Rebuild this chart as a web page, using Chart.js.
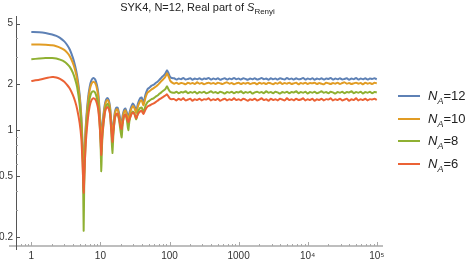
<!DOCTYPE html>
<html>
<head>
<meta charset="utf-8">
<script src="https://cdn.jsdelivr.net/npm/chart.js@4.4.0/dist/chart.umd.min.js"></script>
<style>
  body { margin: 0; background: #fff; font-family: "Liberation Sans", Arial, sans-serif; }
  #wrap { position: relative; width: 475px; height: 264px; }
  #title { position: absolute; top: 1px; left: 0; width: 395px; text-align: center; font-size: 11px; color: #222; white-space: nowrap; }
  #title sub { font-size: 8px; }
  .leg { position: absolute; left: 398px; font-size: 13px; color: #222; height: 16px; line-height: 16px; white-space: nowrap; }
  .leg span.sw { display: inline-block; width: 22px; height: 2px; vertical-align: middle; margin-right: 8px; position: relative; top: -1px; }
  .leg sub { font-size: 9px; }
</style>
</head>
<body>
<div id="wrap">
  <canvas id="c" width="475" height="264"></canvas>
  <div id="title">SYK4, N=12, Real part of <i>S</i><sub>Renyi</sub></div>
  <div id="legend"></div>
</div>
<script>
// time points (log axis)
const times = [
  1, 1.3, 1.6, 2, 2.3, 2.6, 3, 3.3, 3.6, 4,
  4.3, 4.6, 5, 5.3, 5.5, 5.62, 5.72, 5.82, 5.95, 6.2,
  6.6, 7.0, 7.4, 7.9, 8.4, 8.9, 9.3, 9.8, 10.1, 10.3,
  10.5, 10.8, 11.5, 12.0, 12.6, 13.2, 13.8, 14.4, 14.9, 15.4,
  16.2, 17.0, 17.7, 18.6, 19.6, 20.3, 21.0, 22.0, 23.0, 24.2,
  25.3, 26.3, 27.8, 29.5, 31.0, 33.0, 35.0, 37.5, 39.5, 42.0,
  45, 48, 51, 55, 59, 63, 67, 72, 77, 82,
  87, 92, 97, 102, 108,
  117, 126, 136, 147, 158, 171, 185, 200, 215, 232,
  251, 271, 293, 316, 341, 368, 398, 430, 464, 501,
  541, 584, 631, 681, 736, 794, 858, 926, 1000, 1080,
  1170, 1260, 1360, 1470, 1580, 1710, 1850, 2000, 2150, 2320,
  2510, 2710, 2930, 3160, 3410, 3680, 3980, 4300, 4640, 5010,
  5410, 5840, 6310, 6810, 7360, 7940, 8580, 9260, 10000, 10800,
  11700, 12600, 13600, 14700, 15800, 17100, 18500, 20000, 21500, 23200,
  25100, 27100, 29300, 31600, 34100, 36800, 39800, 43000, 46400, 50100,
  54100, 58400, 63100, 68100, 73600, 79400, 85800, 92600, 100000
];

const na12 = [
  4.40, 4.39, 4.34, 4.24, 4.15, 4.03, 3.82, 3.62, 3.38, 2.98,
  2.65, 2.28, 1.72, 1.22, 0.82, 0.60, 0.42, 0.58, 0.80, 1.15,
  1.60, 1.93, 2.12, 2.20, 2.15, 1.98, 1.75, 1.30, 0.98, 0.76,
  0.95, 1.15, 1.45, 1.58, 1.63, 1.58, 1.42, 1.12, 0.90, 1.08,
  1.32, 1.41, 1.41, 1.30, 1.15, 1.10, 1.25, 1.36, 1.39, 1.30,
  1.22, 1.30, 1.42, 1.50, 1.45, 1.35, 1.50, 1.62, 1.64, 1.52,
  1.72, 1.86, 1.90, 1.96, 1.99, 2.04, 2.08, 2.15, 2.22, 2.28,
  2.35, 2.47, 2.36, 2.24, 2.20,
  2.19, 2.15, 2.18, 2.16, 2.20, 2.15, 2.17, 2.19, 2.14, 2.18,
  2.16, 2.19, 2.15, 2.18, 2.17, 2.20, 2.15, 2.18, 2.16, 2.19,
  2.14, 2.17, 2.19, 2.15, 2.18, 2.16, 2.20, 2.16, 2.18, 2.15,
  2.19, 2.17, 2.14, 2.18, 2.16, 2.19, 2.15, 2.17, 2.20, 2.16,
  2.18, 2.14, 2.19, 2.16, 2.18, 2.15, 2.19, 2.17, 2.15, 2.20,
  2.16, 2.18, 2.15, 2.19, 2.16, 2.17, 2.20, 2.15, 2.18, 2.16,
  2.19, 2.14, 2.18, 2.16, 2.19, 2.15, 2.18, 2.17, 2.20, 2.15,
  2.18, 2.16, 2.19, 2.15, 2.17, 2.19, 2.14, 2.18, 2.16, 2.20,
  2.15, 2.18, 2.16, 2.19, 2.15, 2.18, 2.17, 2.19, 2.16
];

const na10 = [
  3.65, 3.65, 3.63, 3.60, 3.55, 3.48, 3.36, 3.22, 3.05, 2.75,
  2.48, 2.16, 1.64, 1.17, 0.80, 0.58, 0.40, 0.56, 0.77, 1.10,
  1.52, 1.84, 2.01, 2.08, 2.04, 1.88, 1.66, 1.24, 0.94, 0.73,
  0.92, 1.10, 1.40, 1.53, 1.58, 1.53, 1.38, 1.09, 0.88, 1.05,
  1.28, 1.37, 1.37, 1.26, 1.10, 1.05, 1.20, 1.32, 1.35, 1.26,
  1.18, 1.25, 1.37, 1.44, 1.40, 1.30, 1.44, 1.55, 1.57, 1.46,
  1.64, 1.76, 1.80, 1.85, 1.89, 1.93, 1.97, 2.04, 2.11, 2.17,
  2.24, 2.36, 2.25, 2.12, 2.06,
  2.02, 2.05, 2.01, 2.04, 2.03, 2.00, 2.05, 2.02, 2.04, 2.01,
  2.06, 2.02, 2.04, 2.00, 2.03, 2.05, 2.02, 2.04, 2.01, 2.05,
  2.03, 2.01, 2.04, 2.06, 2.02, 2.04, 2.00, 2.03, 2.05, 2.01,
  2.04, 2.02, 2.05, 2.01, 2.03, 2.04, 2.00, 2.05, 2.02, 2.04,
  2.01, 2.05, 2.03, 2.00, 2.04, 2.02, 2.06, 2.01, 2.04, 2.02,
  2.05, 2.01, 2.03, 2.05, 2.00, 2.04, 2.02, 2.05, 2.01, 2.04,
  2.03, 2.05, 2.01, 2.04, 2.02, 2.00, 2.05, 2.03, 2.01, 2.04,
  2.02, 2.05, 2.01, 2.04, 2.06, 2.02, 2.04, 2.01, 2.03, 2.05,
  2.02, 2.04, 2.00, 2.05, 2.02, 2.04, 2.01, 2.05, 2.03
];

const na8 = [
  2.92, 2.95, 2.97, 2.97, 2.95, 2.90, 2.82, 2.72, 2.60, 2.38,
  2.16, 1.92, 1.48, 1.05, 0.70, 0.45, 0.22, 0.42, 0.62, 0.95,
  1.35, 1.62, 1.76, 1.80, 1.76, 1.62, 1.45, 1.05, 0.75, 0.54,
  0.76, 0.96, 1.28, 1.43, 1.49, 1.44, 1.28, 0.95, 0.71, 0.93,
  1.20, 1.28, 1.28, 1.17, 0.98, 0.90, 1.10, 1.24, 1.27, 1.16,
  1.00, 1.15, 1.27, 1.33, 1.29, 1.18, 1.32, 1.40, 1.41, 1.32,
  1.45, 1.53, 1.56, 1.60, 1.62, 1.66, 1.69, 1.74, 1.78, 1.82,
  1.86, 1.94, 1.85, 1.79, 1.77,
  1.76, 1.79, 1.75, 1.78, 1.77, 1.80, 1.75, 1.78, 1.76, 1.79,
  1.74, 1.78, 1.76, 1.79, 1.75, 1.77, 1.80, 1.76, 1.78, 1.75,
  1.79, 1.77, 1.74, 1.78, 1.76, 1.79, 1.75, 1.78, 1.77, 1.80,
  1.75, 1.78, 1.76, 1.79, 1.74, 1.77, 1.79, 1.76, 1.78, 1.75,
  1.80, 1.76, 1.78, 1.75, 1.79, 1.77, 1.74, 1.78, 1.76, 1.79,
  1.75, 1.78, 1.77, 1.80, 1.75, 1.78, 1.76, 1.79, 1.74, 1.78,
  1.76, 1.79, 1.75, 1.77, 1.80, 1.76, 1.78, 1.75, 1.79, 1.77,
  1.74, 1.78, 1.76, 1.79, 1.75, 1.78, 1.77, 1.80, 1.75, 1.78,
  1.76, 1.79, 1.74, 1.78, 1.76, 1.79, 1.75, 1.78, 1.77
];

const na6 = [
  2.10, 2.14, 2.19, 2.23, 2.22, 2.17, 2.08, 1.98, 1.88, 1.70,
  1.55, 1.38, 1.12, 0.88, 0.62, 0.48, 0.39, 0.47, 0.62, 0.88,
  1.20, 1.44, 1.57, 1.62, 1.60, 1.50, 1.36, 1.05, 0.82, 0.69,
  0.84, 1.00, 1.27, 1.38, 1.42, 1.38, 1.27, 1.00, 0.84, 0.98,
  1.20, 1.28, 1.29, 1.20, 1.05, 1.02, 1.12, 1.24, 1.27, 1.20,
  1.13, 1.18, 1.26, 1.31, 1.28, 1.20, 1.28, 1.33, 1.34, 1.28,
  1.37, 1.43, 1.45, 1.48, 1.50, 1.53, 1.56, 1.60, 1.63, 1.66,
  1.69, 1.72, 1.66, 1.61, 1.60,
  1.60, 1.57, 1.61, 1.58, 1.62, 1.57, 1.59, 1.61, 1.56, 1.60,
  1.58, 1.61, 1.57, 1.60, 1.59, 1.62, 1.57, 1.60, 1.58, 1.61,
  1.56, 1.59, 1.61, 1.57, 1.60, 1.58, 1.62, 1.58, 1.60, 1.57,
  1.61, 1.59, 1.56, 1.60, 1.58, 1.61, 1.57, 1.59, 1.62, 1.58,
  1.60, 1.56, 1.61, 1.58, 1.60, 1.57, 1.61, 1.59, 1.57, 1.62,
  1.58, 1.60, 1.57, 1.61, 1.58, 1.59, 1.62, 1.57, 1.60, 1.58,
  1.61, 1.56, 1.60, 1.58, 1.61, 1.57, 1.60, 1.59, 1.62, 1.57,
  1.60, 1.58, 1.61, 1.57, 1.59, 1.61, 1.56, 1.60, 1.58, 1.62,
  1.57, 1.60, 1.58, 1.61, 1.57, 1.60, 1.59, 1.61, 1.58
];

const seriesNames = ['12', '10', '8', '6'];
const seriesColors = ['#5e81b5', '#e19c24', '#8fb032', '#eb6235'];

const xTicks = [1, 10, 100, 1000, 1e4, 1e5];
const xTickLabels = ['1', '10', '100', '1000', '10\u2074', '10\u2075'];
const yTicks = [0.2, 0.5, 1, 2, 5];
const yTickLabels = ['0.2', '0.5', '1', '2', '5'];
const yMinor = [0.3, 0.4, 0.6, 0.7, 0.8, 0.9, 3, 4];

// legend (html so the subscript is real text)
const legendEl = document.getElementById('legend');
const legTops = [88, 111, 133, 156];
seriesNames.forEach((n, i) => {
  const d = document.createElement('div');
  d.className = 'leg';
  d.style.top = legTops[i] + 'px';
  d.innerHTML = '<span class="sw" style="background:' + seriesColors[i] + '"></span><i>N</i><sub><i>A</i></sub>=' + n;
  legendEl.appendChild(d);
});

// Mathematica-like axes with inward ticks
const axesPlugin = {
  id: 'axes',
  afterDatasetsDraw(chart) {
    const ctx = chart.ctx;
    const a = chart.chartArea;
    const xs = chart.scales.x, ys = chart.scales.y;
    ctx.save();
    // x axis
    ctx.strokeStyle = '#a8a8a8';
    ctx.lineWidth = 1.5;
    ctx.beginPath();
    ctx.moveTo(a.left - 7, a.bottom);
    ctx.lineTo(a.right, a.bottom);
    ctx.stroke();
    ctx.lineWidth = 1;
    for (let d = 0.1; d <= 1e5; d *= 10) {
      for (let k = 1; k < 10; k++) {
        const v = d * k;
        if (v < xs.min || v > xs.max) continue;
        const px = Math.round(xs.getPixelForValue(v)) + 0.5;
        const len = k === 1 ? 4 : 2;
        ctx.beginPath();
        ctx.moveTo(px, a.bottom);
        ctx.lineTo(px, a.bottom - len);
        ctx.stroke();
      }
    }
    // y axis
    ctx.strokeStyle = '#555';
    ctx.beginPath();
    ctx.moveTo(a.left + 0.5, a.top);
    ctx.lineTo(a.left + 0.5, a.bottom + 4);
    ctx.stroke();
    yTicks.forEach(v => {
      const py = Math.round(ys.getPixelForValue(v)) + 0.5;
      ctx.beginPath();
      ctx.moveTo(a.left, py);
      ctx.lineTo(a.left + 4, py);
      ctx.stroke();
    });
    ctx.strokeStyle = '#999';
    yMinor.forEach(v => {
      const py = Math.round(ys.getPixelForValue(v)) + 0.5;
      ctx.beginPath();
      ctx.moveTo(a.left, py);
      ctx.lineTo(a.left + 2, py);
      ctx.stroke();
    });
    ctx.restore();
  }
};

const order = [3, 2, 1, 0];
const datasets = [na12, na10, na8, na6].map((vals, i) => ({
  label: 'NA=' + seriesNames[i],
  data: times.map((t, j) => ({ x: t, y: vals[j] })),
  borderColor: seriesColors[i],
  borderWidth: 2,
  pointRadius: 0,
  tension: 0.2,
  fill: false,
  order: order[i]
}));

new Chart(document.getElementById('c'), {
  type: 'line',
  data: { datasets },
  options: {
    responsive: false,
    animation: false,
    devicePixelRatio: 1,
    layout: { padding: { top: 16, right: 92, left: 0, bottom: 0 } },
    plugins: { legend: { display: false }, tooltip: { enabled: false }, title: { display: false } },
    scales: {
      x: {
        type: 'logarithmic',
        min: 0.607,
        max: 1.23e5,
        grid: { display: false, drawTicks: false },
        border: { display: false },
        afterBuildTicks: s => { s.ticks = xTicks.map(v => ({ value: v })); },
        afterFit: s => { s.height = 18; },
        ticks: {
          autoSkip: false,
          maxRotation: 0,
          padding: 4,
          color: '#333',
          font: { family: 'Liberation Sans', size: 10 },
          callback: (v, i) => xTickLabels[i]
        }
      },
      y: {
        type: 'logarithmic',
        min: 0.175,
        max: 5.6,
        grid: { display: false, drawTicks: false },
        border: { display: false },
        afterBuildTicks: s => { s.ticks = yTicks.map(v => ({ value: v })); },
        afterFit: s => { s.width = 16; },
        ticks: {
          autoSkip: false,
          padding: 3,
          color: '#333',
          font: { family: 'Liberation Sans', size: 10 },
          callback: (v, i) => yTickLabels[i]
        }
      }
    }
  },
  plugins: [axesPlugin]
});
</script>
</body>
</html>
